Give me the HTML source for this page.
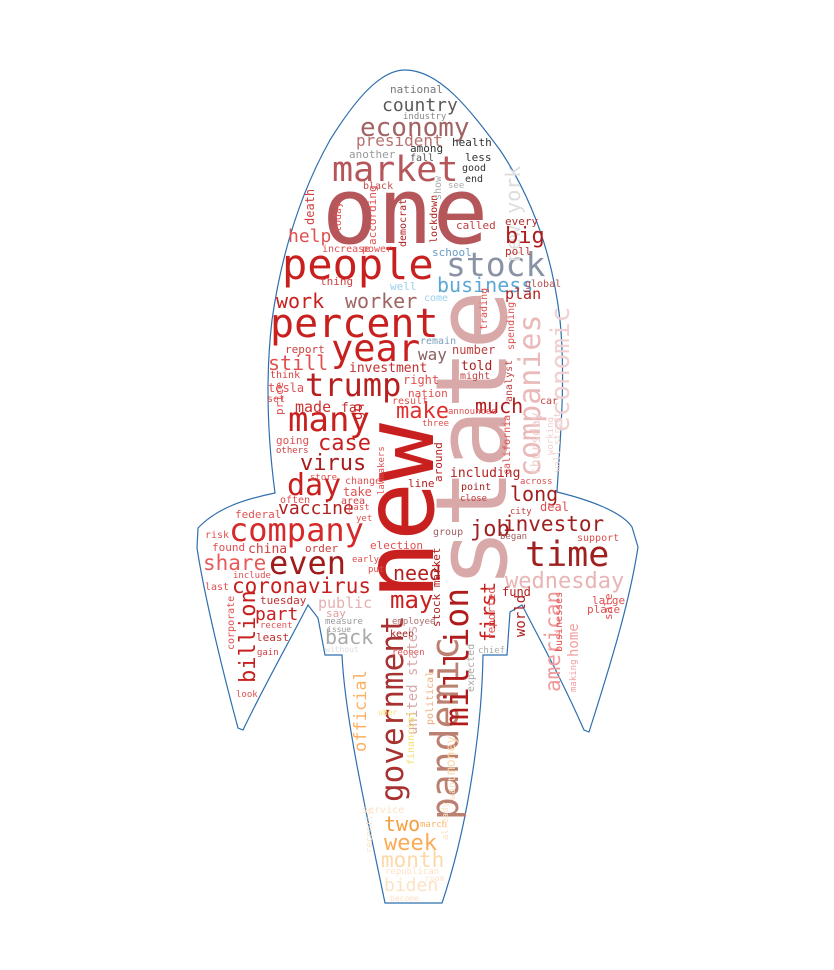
<!DOCTYPE html>
<html><head><meta charset="utf-8"><style>
html,body{margin:0;padding:0;background:#fff;}
svg{display:block;}
text{font-family:"DejaVu Sans Mono","Liberation Mono",monospace;}
</style></head><body>
<svg width="834" height="970" viewBox="0 0 834 970">
<rect width="834" height="970" fill="#fff"/>
<path fill="#fff" stroke="#2f6fae" stroke-width="1.2"
d="M405,70 C440,70 470,110 500,150 C530,195 552,250 560,320 C566,380 560,440 557,492 C590,500 622,512 632,527 L638,547 C630,600 612,660 589,732 L584,730 C562,680 540,640 522,605 L510,612 L507,655 L483,655 C482,720 470,820 442,903 L385,903 C368,820 345,720 342,655 L325,655 L318,618 L308,605 C290,640 262,690 243,730 L238,728 C225,680 205,600 197,548 L198,528 C215,510 240,500 275,493 C268,440 265,380 272,320 C282,250 302,190 330,140 C355,100 380,70 405,70 Z"/>
<g id="words"></g>
</svg>
<script>
// word, x, y (baseline start), size, color, rotated(1 = vertical)
const words = [
["one",322,243,92,"#b5565a",0],
["new",433,600,98,"#c8201f",1],
["state",506,588,99,"#d9a9a9",1],
["people",282,279,42,"#c8201f",0],
["stock",446,276,33,"#8a93a5",0],
["percent",270,337,40,"#c8201f",0],
["market",332,181,35,"#b5565a",0],
["economy",360,136,26,"#a06462",0],
["year",331,361,37,"#c8201f",0],
["trump",305,396,32,"#b82020",0],
["many",288,431,34,"#c8201f",0],
["day",287,495,30,"#c8201f",0],
["company",229,541,32,"#d42a2a",0],
["even",269,574,32,"#a01c1c",0],
["coronavirus",232,593,21,"#c8201f",0],
["time",525,566,35,"#a02020",0],
["wednesday",505,588,22,"#e8b4b4",0],
["investor",503,531,21,"#a02020",0],
["share",203,570,21,"#e85a5a",0],
["government",403,802,31,"#a83232",1],
["pandemic",458,820,38,"#bb8070",1],
["million",468,727,33,"#b01c1c",1],
["companies",540,477,30,"#eab9b9",1],
["economic",569,432,26,"#f0d0d0",1],
["billion",255,683,22,"#c8201f",1],
["american",560,692,21,"#ee9a9a",1],
["first",495,642,20,"#c8201f",1],
["new york",520,262,20,"#dddddd",1],
["month",381,867,21,"#fcd9a8",0],
["week",384,850,22,"#fdaa55",0],
["two",384,831,20,"#f5a040",0],
["biden",384,891,18,"#fde2c4",0],
["business",437,292,20,"#5ba8d4",0],
["worker",345,308,20,"#a06462",0],
["work",276,308,20,"#c8201f",0],
["country",382,111,18,"#5a5a5a",0],
["president",356,146,16,"#b87070",0],
["national",390,93,11,"#777",0],
["make",396,418,22,"#e03030",0],
["case",318,450,22,"#c8201f",0],
["virus",300,470,22,"#a81c1c",0],
["vaccine",278,514,18,"#b02020",0],
["big",505,243,22,"#b01c1c",0],
["much",475,413,20,"#b01c1c",0],
["long",510,501,20,"#a02020",0],
["may",390,608,24,"#c8201f",0],
["need",393,580,20,"#b02020",0],
["back",325,644,20,"#aaaaaa",0],
["job",470,536,22,"#a02020",0],
["still",268,370,20,"#e05050",0],
["help",288,242,18,"#e05050",0],
["health",452,146,11,"#333",0],
["less",465,161,11,"#333",0],
["good",462,171,10,"#333",0],
["end",465,182,10,"#333",0],
["among",410,152,11,"#333",0],
["fall",410,161,10,"#555",0],
["another",349,158,11,"#999",0],
["black",363,189,10,"#c05050",0],
["plan",505,299,15,"#b02020",0],
["global",525,287,10,"#b05050",0],
["poll",505,255,11,"#c03030",0],
["every",505,225,11,"#b03030",0],
["called",456,229,11,"#c04040",0],
["school",432,256,11,"#6a9ac0",0],
["increase",322,252,10,"#e05050",0],
["power",362,252,10,"#e05050",0],
["well",390,290,11,"#9ad0ee",0],
["come",424,301,10,"#9ad0ee",0],
["thing",320,285,11,"#d04040",0],
["way",418,360,16,"#8a6060",0],
["number",452,354,12,"#c04040",0],
["told",461,370,13,"#b02020",0],
["might",460,379,10,"#c04040",0],
["remain",420,344,10,"#7aa0c0",0],
["investment",349,372,13,"#c03030",0],
["right",403,384,12,"#e05050",0],
["nation",408,397,11,"#e05050",0],
["result",392,404,10,"#e05050",0],
["report",285,353,11,"#d04040",0],
["think",270,378,10,"#d04040",0],
["tesla",268,392,12,"#e05050",0],
["made",295,412,15,"#d03030",0],
["far",341,412,13,"#c03030",0],
["going",276,444,11,"#e05050",0],
["others",276,453,9,"#d04040",0],
["announced",448,414,9,"#e05050",0],
["three",422,426,9,"#e05050",0],
["car",540,404,10,"#c04040",0],
["including",450,477,13,"#b02020",0],
["across",520,484,9,"#e05050",0],
["point",461,490,10,"#a02020",0],
["close",460,501,9,"#c04040",0],
["city",510,514,9,"#c04040",0],
["deal",540,511,12,"#e05050",0],
["group",433,535,10,"#a06060",0],
["began",500,539,9,"#a06060",0],
["support",577,541,10,"#e05050",0],
["election",370,549,11,"#e05050",0],
["early",352,562,9,"#e05050",0],
["put",368,572,9,"#e05050",0],
["fund",502,596,12,"#b02020",0],
["large",592,604,11,"#e05050",0],
["place",587,613,11,"#e05050",0],
["change",345,484,10,"#e05050",0],
["take",343,496,12,"#e05050",0],
["area",341,504,10,"#d04040",0],
["past",348,510,9,"#e05050",0],
["yet",356,521,9,"#e05050",0],
["often",280,503,10,"#e05050",0],
["federal",235,518,11,"#e05050",0],
["order",305,552,11,"#d04040",0],
["china",248,553,13,"#d04040",0],
["found",212,551,11,"#e05050",0],
["risk",205,538,10,"#e05050",0],
["include",233,578,9,"#e05050",0],
["last",205,590,10,"#e05050",0],
["tuesday",260,604,11,"#c03030",0],
["part",255,620,18,"#c8201f",0],
["recent",260,628,9,"#e05050",0],
["least",256,641,11,"#c03030",0],
["gain",257,655,9,"#d04040",0],
["look",236,697,9,"#e05050",0],
["public",318,608,15,"#e4b0b0",0],
["say",326,617,11,"#e0a0a0",0],
["measure",325,624,9,"#999",0],
["issue",327,632,8,"#999",0],
["without",325,652,8,"#ddd",0],
["employee",392,624,9,"#b07070",0],
["keep",390,637,10,"#a02020",0],
["reopen",392,655,9,"#e05050",0],
["chief",478,653,9,"#aaa",0],
["uber",378,715,8,"#f6e070",0],
["service",362,813,10,"#fde2c4",0],
["march",420,827,9,"#fdb060",0],
["republican",385,874,9,"#fde2c4",0],
["room",425,881,8,"#fde2c4",0],
["become",390,901,8,"#fde2c4",0],
["world",525,637,14,"#b02020",1],
["home",578,657,14,"#f0a0a0",1],
["businesses",562,652,10,"#e05050",1],
["making",576,692,9,"#f0a0a0",1],
["corporate",234,650,10,"#e05050",1],
["united states",417,735,14,"#d9a9a9",1],
["money",455,775,13,"#fcd9a8",1],
["official",366,752,17,"#fdb060",1],
["political",433,725,10,"#eeb080",1],
["financial",414,765,10,"#f6e070",1],
["recently",372,853,9,"#fde2c4",1],
["already",448,840,9,"#fde2c4",1],
["want",455,800,10,"#fde2c4",1],
["expected",474,692,10,"#aaa",1],
["reported",495,640,11,"#e05050",1],
["stock market",440,627,11,"#b02020",1],
["around",442,482,11,"#b02020",1],
["california",510,475,10,"#e05050",1],
["thursday",540,475,13,"#f0d0d0",1],
["analyst",512,402,10,"#c04040",1],
["spending",514,350,10,"#e05050",1],
["trading",487,330,10,"#e05050",1],
["lawmakers",384,495,9,"#e05050",1],
["go",362,420,14,"#c8201f",1],
["price",283,415,11,"#e05050",1],
["death",314,225,12,"#d04040",1],
["today",341,232,10,"#e05050",1],
["according",376,245,11,"#e05050",1],
["democrat",406,247,10,"#b02020",1],
["lockdown",437,243,10,"#b02020",1],
["show",441,200,10,"#aaa",1],
["see",448,188,9,"#aaa",0],
["industry",403,119,9,"#888",0],
["sale",612,620,11,"#e05050",1],
["set",267,402,10,"#e05050",0],
["store",310,480,9,"#e05050",0],
["line",408,487,11,"#b02020",0],
["wall street",560,472,9,"#f0d0d0",1],
["working",553,455,9,"#f0d0d0",1]
];
const g = document.getElementById('words');
const NS = 'http://www.w3.org/2000/svg';
for (const w of words) {
  const t = document.createElementNS(NS, 'text');
  t.textContent = w[0];
  t.setAttribute('font-size', w[3]);
  t.setAttribute('fill', w[4]);
  if (w[5]) t.setAttribute('transform', 'translate(' + w[1] + ',' + w[2] + ') rotate(-90)');
  else { t.setAttribute('x', w[1]); t.setAttribute('y', w[2]); }
  
  
  g.appendChild(t);
}
</script>
</body></html>
